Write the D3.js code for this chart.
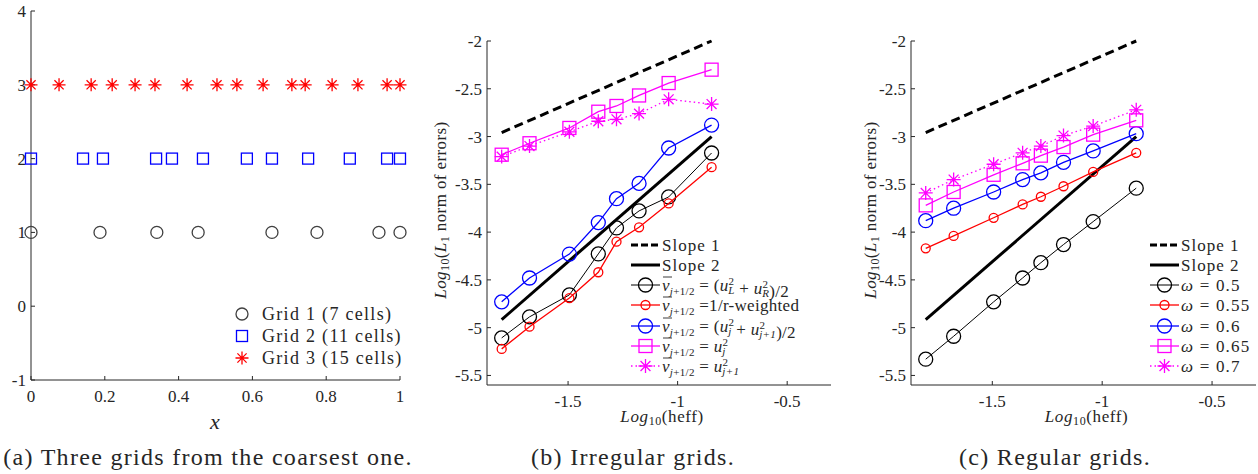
<!DOCTYPE html>
<html>
<head>
<meta charset="utf-8">
<script src="https://cdn.jsdelivr.net/npm/d3@7"></script>
<style>
  body { margin: 0; background: #fff; }
</style>
</head>
<body>
<svg id="fig" width="1258" height="474" font-family="'Liberation Serif', 'DejaVu Serif', serif"></svg>
<script>
// ---------------- data ----------------
// (a) grid node positions
var grid1 = [0, 0.187, 0.341, 0.453, 0.653, 0.775, 0.943, 1.0];
var grid2 = [0, 0.141, 0.195, 0.339, 0.382, 0.466, 0.585, 0.653, 0.751, 0.864, 0.965, 1.0];
var grid3 = [0, 0.076, 0.163, 0.220, 0.282, 0.336, 0.423, 0.504, 0.558, 0.629, 0.707, 0.743, 0.816, 0.886, 0.965, 1.0];
var gridNames = ["Grid 1 (7 cells)", "Grid 2 (11 cells)", "Grid 3 (15 cells)"];

// log10(heff) for (b) and (c)
var logH = [-1.803, -1.676, -1.494, -1.362, -1.279, -1.176, -1.041, -0.845];
var slope1 = [-2.958, -2.0];
var slope2 = [-4.916, -3.0];

// (b) irregular grids
var irrLR    = [-5.107, -4.887, -4.657, -4.228, -3.956, -3.778, -3.632, -3.172];
var irrRw    = [-5.222, -4.990, -4.690, -4.420, -4.100, -3.950, -3.700, -3.320];
var irrAvg   = [-4.730, -4.480, -4.230, -3.900, -3.650, -3.490, -3.120, -2.880];
var irrUj    = [-3.190, -3.070, -2.910, -2.740, -2.680, -2.570, -2.440, -2.300];
var irrUj1   = [-3.210, -3.100, -2.950, -2.840, -2.820, -2.760, -2.610, -2.660];

// (c) regular grids
var reg05  = [-5.330, -5.090, -4.730, -4.480, -4.320, -4.130, -3.890, -3.540];
var reg055 = [-4.170, -4.040, -3.850, -3.710, -3.630, -3.520, -3.370, -3.170];
var reg06  = [-3.880, -3.750, -3.580, -3.450, -3.380, -3.270, -3.150, -2.970];
var reg065 = [-3.720, -3.580, -3.400, -3.280, -3.200, -3.110, -2.980, -2.830];
var reg07  = [-3.590, -3.450, -3.290, -3.170, -3.100, -2.990, -2.890, -2.720];

var errTicks = [-5.5, -5, -4.5, -4, -3.5, -3, -2.5, -2];
var hTicks = [-1.5, -1, -0.5];

var svg = d3.select("#fig");
var axisCol = "#262626";
var serif = "'Liberation Serif', 'DejaVu Serif', serif";

//---------------------------------------- markers ----------------------------------------
function star(s) {
    var k = s * 0.7071;
    return "M" + (-s) + ",0L" + s + ",0M0," + (-s) + "L0," + s +
        "M" + (-k) + "," + (-k) + "L" + k + "," + k + "M" + (-k) + "," + k + "L" + k + "," + (-k);
}

function marker(g, type, x, y, color, size) {
    if (type == "o") {
        g.append("circle").attr("cx", x).attr("cy", y).attr("r", size)
            .attr("fill", "none").attr("stroke", color).attr("stroke-width", 1.3);
    } else if (type == "s") {
        g.append("rect").attr("x", x - size).attr("y", y - size)
            .attr("width", 2 * size).attr("height", 2 * size)
            .attr("fill", "none").attr("stroke", color).attr("stroke-width", 1.3);
    } else {
        g.append("path").attr("transform", "translate(" + x + "," + y + ")")
            .attr("d", star(size)).attr("stroke", color).attr("stroke-width", 1.3);
    }
}

function txt(g) {
    return g.append("text").attr("font-family", serif).attr("fill", axisCol);
}

function rich(t, parts) {
    parts.forEach(function (p) {
        var ts = t.append("tspan").text(p.t);
        if (p.i) ts.attr("font-style", "italic");
        if (p.fs) ts.attr("font-size", p.fs);
        if (p.dx) ts.attr("dx", p.dx);
        if (p.dy) ts.attr("dy", p.dy);
    });
}

//---------------------------------------- axes helper ----------------------------------------
function drawAxes(g, x, y, xt, yt) {
    var r = x.range(), d = y.range();
    g.append("line").attr("x1", r[0]).attr("x2", r[1]).attr("y1", d[0]).attr("y2", d[0])
        .attr("stroke", axisCol);
    g.append("line").attr("x1", r[0]).attr("x2", r[0]).attr("y1", d[0]).attr("y2", d[1])
        .attr("stroke", axisCol);
    xt.forEach(function (v) {
        g.append("line").attr("x1", x(v)).attr("x2", x(v)).attr("y1", d[0]).attr("y2", d[0] - 4)
            .attr("stroke", axisCol);
        txt(g).attr("x", x(v)).attr("y", d[0] + 22).attr("text-anchor", "middle")
            .attr("font-size", 17).text(String(v));
    });
    yt.forEach(function (v) {
        g.append("line").attr("x1", r[0]).attr("x2", r[0] + 4).attr("y1", y(v)).attr("y2", y(v))
            .attr("stroke", axisCol);
        txt(g).attr("x", r[0] - 5).attr("y", y(v)).attr("dy", "0.35em")
            .attr("text-anchor", "end").attr("font-size", 17).text(String(v));
    });
}

//---------------------------------------- (a) ----------------------------------------
var ga = svg.append("g");
var xa = d3.scaleLinear().domain([0, 1]).range([31, 400]);
var ya = d3.scaleLinear().domain([-1, 4]).range([380, 11]);
drawAxes(ga, xa, ya, [0, 0.2, 0.4, 0.6, 0.8, 1], [-1, 0, 1, 2, 3, 4]);

var grids = [
    {pts: grid1, lev: 1, type: "o", color: "#404040", size: 6},
    {pts: grid2, lev: 2, type: "s", color: "#0000ff", size: 5.5},
    {pts: grid3, lev: 3, type: "*", color: "#ff0000", size: 6.5}
];
grids.forEach(function (gr, i) {
    gr.pts.forEach(function (v) { marker(ga, gr.type, xa(v), ya(gr.lev), gr.color, gr.size); });
    marker(ga, gr.type, 242, 314 + i * 22, gr.color, gr.size);
    txt(ga).attr("x", 262).attr("y", 314 + i * 22).attr("dy", "0.35em")
        .attr("font-size", 18).attr("letter-spacing", 1.3).text(gridNames[i]);
});
txt(ga).attr("x", 215).attr("y", 429).attr("text-anchor", "middle")
    .attr("font-size", 22).attr("font-style", "italic").text("x");
txt(ga).attr("x", 208).attr("y", 465).attr("text-anchor", "middle")
    .attr("font-size", 24).attr("letter-spacing", 1.3).text("(a) Three grids from the coarsest one.");

//---------------------------------------- (b) and (c) ----------------------------------------
var nu = [{t: "ν", i: true}, {t: "j", i: true, fs: 11, dy: 4}, {t: "+1/2", fs: 11}];
function sq(base, sup, sub) {
    var a = [{t: base, i: true}, {t: sup, fs: 11, dy: -6}];
    if (sub) a.push({t: sub, i: true, fs: 11, dx: -6, dy: 9}, {t: "", dy: -3});
    else a.push({t: "", dy: 6});
    return a;
}

function errPanel(x0, x1, series, legX, title, capX, bar, ylOff) {
    var g = svg.append("g");
    var x = d3.scaleLinear().domain([-1.87, -0.3]).range([x0, x1]);
    var y = d3.scaleLinear().domain([-5.6, -2]).range([385, 41]);
    drawAxes(g, x, y, hTicks, errTicks);

    var line = d3.line().x(function (d, i) { return x(logH[i]); }).y(function (d) { return y(d); });
    var ends = [logH[0], logH[logH.length - 1]];
    g.append("line").attr("x1", x(ends[0])).attr("x2", x(ends[1]))
        .attr("y1", y(slope1[0])).attr("y2", y(slope1[1]))
        .attr("stroke", "#000").attr("stroke-width", 3).attr("stroke-dasharray", "9,5");
    g.append("line").attr("x1", x(ends[0])).attr("x2", x(ends[1]))
        .attr("y1", y(slope2[0])).attr("y2", y(slope2[1]))
        .attr("stroke", "#000").attr("stroke-width", 3);

    series.forEach(function (s) {
        g.append("path").datum(s.v).attr("d", line).attr("fill", "none")
            .attr("stroke", s.c).attr("stroke-width", s.w)
            .attr("stroke-dasharray", s.dot ? "1.5,3" : null);
        s.v.forEach(function (v, i) { marker(g, s.m, x(logH[i]), y(v), s.c, s.r); });
    });

    // legend
    var rows = [245, 265, 285, 305, 326, 346, 366];
    var lg = g.append("g");
    lg.append("line").attr("x1", legX).attr("x2", legX + 29).attr("y1", rows[0]).attr("y2", rows[0])
        .attr("stroke", "#000").attr("stroke-width", 3).attr("stroke-dasharray", "7,3");
    lg.append("line").attr("x1", legX).attr("x2", legX + 29).attr("y1", rows[1]).attr("y2", rows[1])
        .attr("stroke", "#000").attr("stroke-width", 3);
    ["Slope 1", "Slope 2"].forEach(function (t, i) {
        txt(lg).attr("x", legX + 31).attr("y", rows[i]).attr("dy", "0.35em")
            .attr("font-size", 17).attr("letter-spacing", 1).text(t);
    });
    series.forEach(function (s, i) {
        var yy = rows[i + 2];
        lg.append("line").attr("x1", legX).attr("x2", legX + 29).attr("y1", yy).attr("y2", yy)
            .attr("stroke", s.c).attr("stroke-width", s.w)
            .attr("stroke-dasharray", s.dot ? "1.5,3" : null);
        marker(lg, s.m, legX + 14.5, yy, s.c, s.r);
        var t = txt(lg).attr("x", legX + 31).attr("y", yy).attr("dy", "0.35em")
            .attr("font-size", 17).attr("letter-spacing", bar ? 0.3 : 1.2);
        rich(t, s.label);
        if (bar) {
            lg.append("line").attr("x1", legX + 32).attr("x2", legX + 41)
                .attr("y1", yy - 8).attr("y2", yy - 8).attr("stroke", axisCol).attr("stroke-width", 0.9);
        }
    });

    // labels
    var xl = txt(g).attr("x", (x0 + x(-0.5)) / 2 + 25).attr("y", 422)
        .attr("text-anchor", "middle").attr("font-size", 17).attr("letter-spacing", 0.6);
    rich(xl, [{t: "Log", i: true}, {t: "10", fs: 12, dy: 3}, {t: "(heff)", dy: -3}]);
    var yl = txt(g).attr("transform", "translate(" + (x0 - ylOff) + ",210) rotate(-90)")
        .attr("text-anchor", "middle").attr("font-size", 17).attr("letter-spacing", 0.4);
    rich(yl, [{t: "Log", i: true}, {t: "10", fs: 12, dy: 3}, {t: "(", dy: -3}, {t: "L", i: true},
        {t: "1", fs: 12, dy: 3}, {t: " norm of errors)", dy: -3}]);
    txt(g).attr("x", capX).attr("y", 465).attr("text-anchor", "middle")
        .attr("font-size", 24).attr("letter-spacing", 1.3).text(title);
}

var eqs = [{t: " = ", dy: -4}];
errPanel(487, 831, [
    {v: irrLR, c: "#000", m: "o", r: 7, w: 1,
        label: nu.concat([{t: " = (", dy: -4}], sq("u", "2", "L"), [{t: " + "}], sq("u", "2", "R"), [{t: ")/2"}])},
    {v: irrRw, c: "#ff0000", m: "o", r: 4.5, w: 1.3,
        label: nu.concat([{t: " =1/r-weighted", dy: -4}])},
    {v: irrAvg, c: "#0000ff", m: "o", r: 7, w: 1.3,
        label: nu.concat([{t: " = (", dy: -4}], sq("u", "2", "j"), [{t: " + "}], sq("u", "2", "j+1"), [{t: ")/2"}])},
    {v: irrUj, c: "#ff00ff", m: "s", r: 6.5, w: 1.3,
        label: nu.concat(eqs, sq("u", "2", "j"))},
    {v: irrUj1, c: "#ff00ff", m: "*", r: 7, w: 1.3, dot: true,
        label: nu.concat(eqs, sq("u", "2", "j+1"))}
], 631, "(b) Irregular grids.", 633, true, 41);

function om(v) { return [{t: "ω", i: true}, {t: " = " + v}]; }
errPanel(911, 1256, [
    {v: reg05, c: "#000", m: "o", r: 7, w: 1, label: om("0.5")},
    {v: reg055, c: "#ff0000", m: "o", r: 4.5, w: 1.3, label: om("0.55")},
    {v: reg06, c: "#0000ff", m: "o", r: 7, w: 1.3, label: om("0.6")},
    {v: reg065, c: "#ff00ff", m: "s", r: 6.5, w: 1.3, label: om("0.65")},
    {v: reg07, c: "#ff00ff", m: "*", r: 7, w: 1.3, dot: true, label: om("0.7")}
], 1150, "(c) Regular grids.", 1055, false, 35);
</script>
</body>
</html>
